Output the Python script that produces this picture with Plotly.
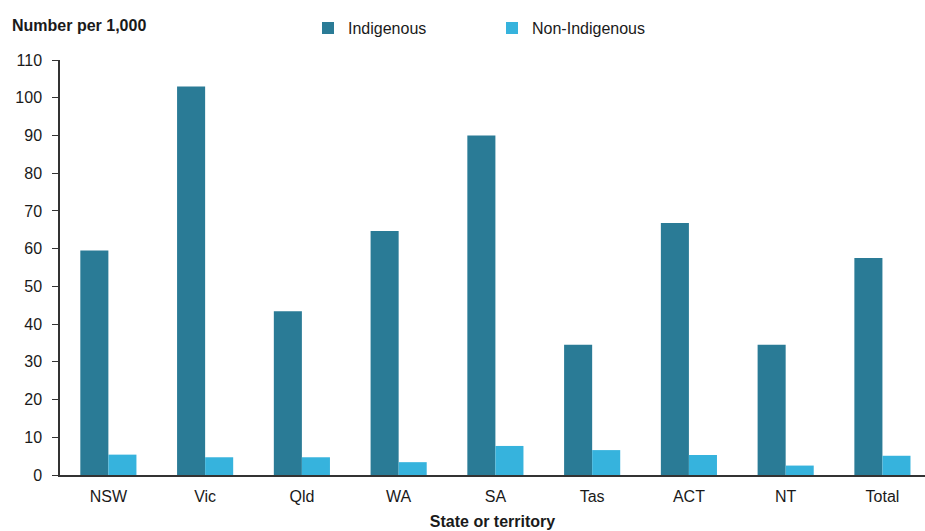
import plotly.graph_objects as go

categories = ["NSW", "Vic", "Qld", "WA", "SA", "Tas", "ACT", "NT", "Total"]
indigenous = [59.5, 103.0, 43.4, 64.7, 90.0, 34.5, 66.8, 34.5, 57.5]
non_indigenous = [5.4, 4.7, 4.7, 3.4, 7.7, 6.6, 5.3, 2.5, 5.1]
y_ticks = list(range(0, 111, 10))

FONT = "Liberation Sans, Arial, sans-serif"
W, H = 925, 531
L, R, T, B = 60, 0, 60, 56
PW, PH = W - L - R, H - T - B

fig = go.Figure()
fig.add_trace(go.Bar(x=categories, y=indigenous, name="Indigenous",
                     marker=dict(color="#2a7b96", line=dict(width=0))))
fig.add_trace(go.Bar(x=categories, y=non_indigenous, name="Non-Indigenous",
                     marker=dict(color="#36b3dd", line=dict(width=0))))

fig.update_layout(
    width=W, height=H,
    margin=dict(l=L, r=R, t=T, b=B, autoexpand=False),
    paper_bgcolor="white", plot_bgcolor="white",
    barmode="group", bargap=0.42, bargroupgap=0,
    font=dict(family=FONT, size=16, color="#1a1a1a"),
    legend=dict(orientation="h", x=(308 - L) / PW, y=0.979, yref="container", yanchor="top",
                xanchor="left", entrywidth=139, entrywidthmode="pixels",
                font=dict(size=16), itemwidth=30, traceorder="normal",
                bgcolor="rgba(0,0,0,0)"),
    xaxis=dict(range=[-0.5, 8.44], showline=True, linecolor="#333333", linewidth=1.5,
               ticks="", showgrid=False, tickfont=dict(size=16), automargin=False,
               ticklabelstandoff=6,
               title=dict(text="<b>State or territory</b>", font=dict(size=16), standoff=12)),
    yaxis=dict(range=[0, 110], tickvals=y_ticks, showline=True,
               linecolor="#333333", linewidth=1.5, ticks="outside", ticklen=6,
               tickcolor="#333333", showgrid=False, zeroline=False, automargin=False,
               ticklabelstandoff=7, tickfont=dict(size=16)),
    annotations=[dict(text="<b>Number per 1,000</b>", x=(10 - L) / PW, y=(H - B - 25) / PH,
                      xref="paper", yref="paper", xanchor="left", yanchor="middle",
                      showarrow=False, font=dict(size=16))],
)

fig.write_html("out.html", config={"displayModeBar": False},
               post_script="document.body.style.margin='0';document.body.style.overflow='hidden';")
